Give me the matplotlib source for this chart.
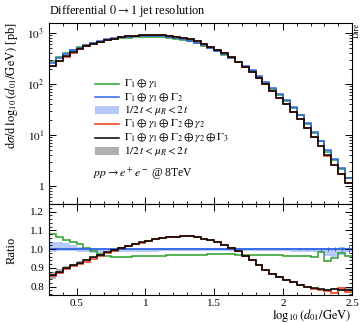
import numpy as np
import matplotlib
matplotlib.use("Agg")
import matplotlib.pyplot as plt
from matplotlib.ticker import MultipleLocator, FixedLocator, FuncFormatter, LogLocator, NullFormatter
from matplotlib.lines import Line2D
from matplotlib.patches import Rectangle

plt.rcParams['font.family'] = ['Liberation Serif', 'DejaVu Serif']
plt.rcParams['mathtext.fontset'] = 'stix'

# bins in log10(d01/GeV), width 0.05
bin_edges = np.linspace(0.3, 2.5, 45)

# reference prediction G1+g1+G2 [pb]
ref_xs = [261, 321, 385, 456, 516, 585, 646, 697, 745, 780, 817, 845, 867, 881, 883,
          877, 861, 838, 798, 760, 711, 650, 583, 513, 452, 389, 329, 272, 227, 185,
          144, 110, 83.6, 63.2, 47.6, 35.1, 25.2, 17.3, 11.5, 7.67, 5.09, 3.35, 2.23, 1.47]

# ratios to the reference
ratio_g1 = [1.080, 1.062, 1.050, 1.038, 1.025, 1.005, 0.990, 0.975, 0.965, 0.960, 0.960,
            0.960, 0.961, 0.962, 0.963, 0.964, 0.965, 0.966, 0.966, 0.967, 0.968, 0.969,
            0.970, 0.971, 0.971, 0.971, 0.972, 0.970, 0.970, 0.969, 0.968, 0.968, 0.966,
            0.966, 0.965, 0.964, 0.963, 0.962, 0.960, 0.983, 0.935, 0.952, 0.980, 0.963]
ratio_g2 = [0.855, 0.874, 0.893, 0.908, 0.921, 0.933, 0.949, 0.964, 0.978, 0.991, 1.003,
            1.015, 1.025, 1.034, 1.043, 1.051, 1.058, 1.063, 1.066, 1.068, 1.067, 1.063,
            1.056, 1.046, 1.036, 1.022, 1.006, 0.988, 0.965, 0.940, 0.915, 0.890, 0.868,
            0.850, 0.835, 0.822, 0.810, 0.798, 0.789, 0.783, 0.775, 0.765, 0.790, 0.772]
ratio_g3 = [0.860, 0.880, 0.900, 0.915, 0.928, 0.940, 0.955, 0.970, 0.983, 0.995, 1.007,
            1.018, 1.027, 1.036, 1.044, 1.052, 1.058, 1.063, 1.066, 1.068, 1.067, 1.063,
            1.056, 1.046, 1.036, 1.022, 1.006, 0.988, 0.965, 0.940, 0.915, 0.890, 0.868,
            0.850, 0.835, 0.822, 0.810, 0.800, 0.790, 0.785, 0.782, 0.786, 0.780, 0.782]

# scale variation envelopes (relative to own central value)
band_ref_hi = [1.040, 1.035, 1.030, 1.020, 1.012, 1.006, 1.003, 1.002, 1.002, 1.002, 1.002,
               1.002, 1.002, 1.002, 1.002, 1.002, 1.003, 1.003, 1.003, 1.003, 1.003, 1.003,
               1.003, 1.003, 1.003, 1.003, 1.003, 1.003, 1.003, 1.003, 1.003, 1.003, 1.003,
               1.003, 1.003, 1.003, 1.003, 1.003, 1.003, 1.003, 1.005, 1.005, 1.010, 1.005]
band_ref_lo = [0.985, 0.987, 0.990, 0.990, 0.985, 0.982, 0.980, 0.980, 0.982, 0.982, 0.982,
               0.982, 0.982, 0.982, 0.982, 0.982, 0.990, 0.990, 0.990, 0.990, 0.990, 0.990,
               0.990, 0.990, 0.990, 0.990, 0.990, 0.990, 0.990, 0.990, 0.990, 0.990, 0.990,
               0.990, 0.988, 0.986, 0.985, 0.985, 0.985, 0.985, 0.965, 0.955, 0.970, 0.985]
band_g3_hi = [1.020, 1.015, 1.010, 1.008, 1.006, 1.005, 1.004, 1.003, 1.003, 1.003, 1.003,
              1.003, 1.003, 1.003, 1.003, 1.003, 1.003, 1.003, 1.003, 1.003, 1.003, 1.003,
              1.003, 1.003, 1.003, 1.003, 1.003, 1.003, 1.003, 1.003, 1.003, 1.003, 1.003,
              1.003, 1.003, 1.003, 1.003, 1.003, 1.003, 1.004, 1.005, 1.006, 1.008, 1.010]
band_g3_lo = [0.980, 0.985, 0.990, 0.992, 0.994, 0.995, 0.996, 0.997, 0.997, 0.997, 0.997,
              0.997, 0.997, 0.997, 0.997, 0.997, 0.997, 0.997, 0.997, 0.997, 0.997, 0.997,
              0.997, 0.997, 0.997, 0.997, 0.997, 0.997, 0.997, 0.997, 0.997, 0.997, 0.997,
              0.997, 0.997, 0.997, 0.997, 0.997, 0.997, 0.996, 0.995, 0.994, 0.992, 0.990]

# relative stat. uncertainty of the reference
ref_err = [0.001] * 36 + [0.004, 0.005, 0.006, 0.008, 0.010, 0.012, 0.013, 0.015]

c_green = '#2ca02c'
c_blue = '#2f66e6'
c_red = '#ee3311'
c_lblue = '#b8c9f7'
c_grey = '#b0b0b0'

ref = np.array(ref_xs)
g1 = ref * np.array(ratio_g1)
g2 = ref * np.array(ratio_g2)
g3 = ref * np.array(ratio_g3)
centers = 0.5 * (bin_edges[1:] + bin_edges[:-1])

fig = plt.figure(figsize=(3.61, 3.23), dpi=100)
ax = fig.add_axes([49/361, 1-204/323, 303/361, 181/323])
rax = fig.add_axes([49/361, 1-295/323, 303/361, 91/323], sharex=ax)

# main panel
ax.stairs(ref*np.array(band_ref_hi), bin_edges, baseline=ref*np.array(band_ref_lo),
          fill=True, color=c_lblue, lw=0)
ax.stairs(g3*np.array(band_g3_hi), bin_edges, baseline=g3*np.array(band_g3_lo),
          fill=True, color=c_grey, lw=0)
ax.stairs(g1, bin_edges, baseline=None, color=c_green, lw=1.1)
ax.stairs(ref, bin_edges, baseline=None, color=c_blue, lw=1.1)
ax.stairs(g2, bin_edges, baseline=None, color=c_red, lw=1.1)
ax.stairs(g3, bin_edges, baseline=None, color='black', lw=1.1)
ax.set_yscale('log')
ax.set_xlim(0.3, 2.5)
ax.set_ylim(0.446, 1567)

# ratio panel
rax.stairs(band_ref_hi, bin_edges, baseline=band_ref_lo, fill=True, color=c_lblue, lw=0)
rax.stairs(np.array(ratio_g3)*np.array(band_g3_hi), bin_edges,
           baseline=np.array(ratio_g3)*np.array(band_g3_lo), fill=True, color=c_grey, lw=0)
rax.stairs(ratio_g1, bin_edges, baseline=None, color=c_green, lw=1.1)
rax.stairs(ref/ref, bin_edges, baseline=None, color=c_blue, lw=1.3)
rax.errorbar(centers, ref/ref, yerr=ref_err, fmt='none', ecolor=c_blue, elinewidth=0.8)
rax.stairs(ratio_g2, bin_edges, baseline=None, color=c_red, lw=1.1)
rax.stairs(ratio_g3, bin_edges, baseline=None, color='black', lw=1.1)
rax.set_ylim(0.755, 1.24)

# ticks
for a in (ax, rax):
    a.tick_params(which='both', direction='in', top=True, right=True, labelsize=8)
    a.tick_params(which='major', length=5, width=0.7)
    a.tick_params(which='minor', length=2.5, width=0.6)
    for s in a.spines.values():
        s.set_linewidth(0.8)
ax.xaxis.set_major_locator(MultipleLocator(0.5))
ax.xaxis.set_minor_locator(MultipleLocator(0.1))
ax.tick_params(labelbottom=False)
ax.yaxis.set_major_locator(LogLocator(base=10, numticks=10))
ax.yaxis.set_minor_locator(LogLocator(base=10, subs=np.arange(2, 10), numticks=20))
ax.yaxis.set_minor_formatter(NullFormatter())
ax.yaxis.set_major_formatter(FuncFormatter(
    lambda v, _: '1' if abs(v - 1) < 1e-9 else r'$10^{%d}$' % round(np.log10(v))))
rax.yaxis.set_major_locator(FixedLocator([0.8, 0.9, 1.0, 1.1, 1.2]))
rax.yaxis.set_minor_locator(MultipleLocator(0.02))
rax.yaxis.set_major_formatter(FuncFormatter(lambda v, _: '%.1f' % v))
rax.xaxis.set_major_formatter(FuncFormatter(lambda v, _: ('%g' % v)))
rax.tick_params(axis='x', pad=3)

# labels
fig.text(12/361, 1-22/323,
         r'$\mathrm{d}\sigma/\mathrm{d}\,\log_{10}(d_{01}/\mathrm{GeV})$ [pb]',
         fontsize=9, rotation=90, ha='center', va='top')
fig.text(12/361, 1-250/323, 'Ratio', fontsize=9, rotation=90, ha='center', va='center')
fig.text(352/361, 1-319/323, r'$\log_{10}(d_{01}/\mathrm{GeV})$', fontsize=9,
         ha='right', va='baseline')
fig.text(49/361, 1-14/323, r'Differential $0 \rightarrow 1$ jet resolution', fontsize=8.8,
         ha='left', va='baseline')
fig.text(357/361, 1-23/323, 'Dire', fontsize=6, rotation=90, ha='center', va='top')

# legend drawn by hand
entries = [('line', c_green, r'$\Gamma_1 \oplus \gamma_1$'),
           ('line', c_blue, r'$\Gamma_1 \oplus \gamma_1 \oplus \Gamma_2$'),
           ('band', c_lblue, r'$1/2\,t < \mu_R < 2\,t$'),
           ('line', c_red, r'$\Gamma_1 \oplus \gamma_1 \oplus \Gamma_2 \oplus \gamma_2$'),
           ('line', 'black', r'$\Gamma_1 \oplus \gamma_1 \oplus \Gamma_2 \oplus \gamma_2 \oplus \Gamma_3$'),
           ('band', c_grey, r'$1/2\,t < \mu_R < 2\,t$')]
leg_y = [0.663, 0.591, 0.519, 0.442, 0.365, 0.293]
for (kind, col, lab), yy in zip(entries, leg_y):
    if kind == 'line':
        ax.add_line(Line2D([0.152, 0.231], [yy, yy], transform=ax.transAxes, color=col, lw=1.1))
    else:
        ax.add_patch(Rectangle((0.152, yy - 0.02), 0.079, 0.04, transform=ax.transAxes,
                               color=col, lw=0))
    ax.text(0.248, yy, lab, transform=ax.transAxes, fontsize=8.2, va='center', ha='left')
ax.text(0.145, 0.165, r'$pp \rightarrow e^+e^-$ @ 8TeV', transform=ax.transAxes,
        fontsize=8.4, va='center', ha='left')

fig.savefig('out.png', dpi=100)
